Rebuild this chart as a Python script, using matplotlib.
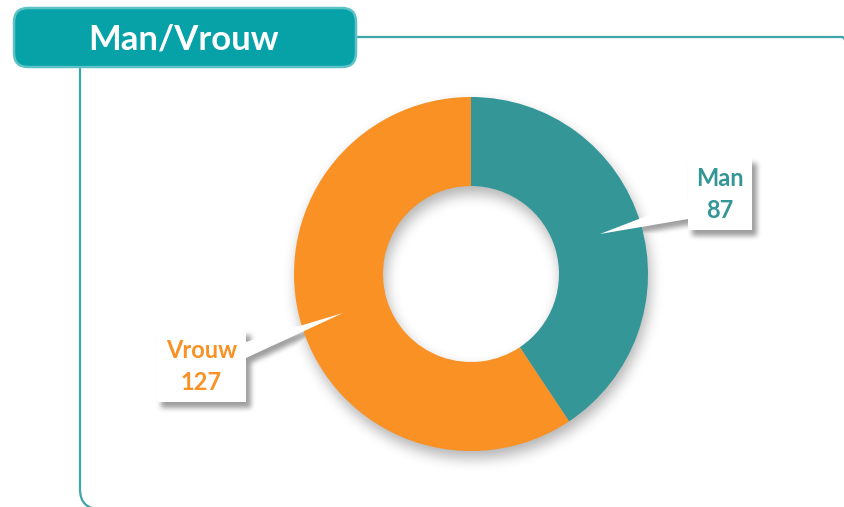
import numpy as np
import matplotlib
matplotlib.use('Agg')
import matplotlib.pyplot as plt
from matplotlib.patches import FancyBboxPatch, Polygon, Rectangle
from matplotlib.path import Path

# data
labels = ['Man', 'Vrouw']
values = [87, 127]
colors = ['#349696', '#F99124']
title = 'Man/Vrouw'

W, H = 845, 507
cx, cy = 471, 274          # donut centre (image pixels, y down)
r_out, r_in = 177, 88


def Y(v):
    return H - v


def box_blur(a, r, n=3):
    for _ in range(n):
        for ax_ in (0, 1):
            pad = [(0, 0), (0, 0)]
            pad[ax_] = (r + 1, r)
            p = np.pad(a, pad, mode='edge')
            c = np.cumsum(p, axis=ax_)
            if ax_ == 0:
                a = (c[2 * r + 1:] - c[:-2 * r - 1]) / (2 * r + 1)
            else:
                a = (c[:, 2 * r + 1:] - c[:, :-2 * r - 1]) / (2 * r + 1)
    return a


fig = plt.figure(figsize=(W / 100, H / 100), dpi=100)
ax = fig.add_axes([0, 0, 1, 1])
fig.patch.set_facecolor('white')

# soft shadows (donut + callouts)
yy, xx = np.mgrid[0:H, 0:W]
rr = np.hypot(xx - cx - 2, yy - cy - 7)
ring = ((rr <= r_out) & (rr >= r_in)).astype(float)
shadow = box_blur(ring, 6) * 0.30

# callout geometry: box (x0, y0, x1, y1), pointer tip, pointer base y range
callouts = [
    dict(box=(688, 158, 752, 230), tip=(600, 234), base=(200, 219), side='left'),
    dict(box=(157, 330, 246, 402), tip=(343, 313), base=(342, 358), side='right'),
]
cmask = np.zeros((H, W))
pts = np.column_stack([xx.ravel(), yy.ravel()])
for c in callouts:
    x0, y0, x1, y1 = c['box']
    cmask[(xx >= x0 + 4) & (xx <= x1 + 4) & (yy >= y0 + 5) & (yy <= y1 + 5)] = 1
    bx = x0 if c['side'] == 'left' else x1
    tri = Path([(c['tip'][0] + 3, c['tip'][1] + 5), (bx + 3, c['base'][0] + 5),
                (bx + 3, c['base'][1] + 5)])
    cmask[tri.contains_points(pts).reshape(H, W)] = 1
shadow = np.maximum(shadow, box_blur(cmask, 2) * 0.38)

img = np.zeros((H, W, 4))
img[..., 3] = shadow
ax.imshow(img, extent=(0, W, 0, H), origin='upper', zorder=1, interpolation='bilinear')

# donut
ax.pie(values, colors=colors, startangle=90, counterclock=False,
       radius=r_out, center=(cx, Y(cy)), frame=True,
       wedgeprops=dict(width=r_out - r_in, edgecolor='none', zorder=2))

# frame around the panel (bottom and right edges run just past the canvas)
frame = FancyBboxPatch((80, Y(509)), 782, 472, boxstyle='round,pad=0,rounding_size=20',
                       facecolor='none', edgecolor='#3FA5A8', linewidth=1.6, zorder=3)
ax.add_patch(frame)

# header
head = FancyBboxPatch((14, Y(67)), 342, 59, boxstyle='round,pad=0,rounding_size=14',
                      facecolor='#06A2A8', edgecolor='#5DC2C6', linewidth=1.8, zorder=4)
ax.add_patch(head)
ax.text(184, Y(39), title, ha='center', va='center', color='white',
        fontsize=25, fontweight='bold', family='Lato', zorder=5)

# callouts
for c, lab, val, col in zip(callouts, labels, values, colors):
    x0, y0, x1, y1 = c['box']
    bx = x0 if c['side'] == 'left' else x1
    ax.add_patch(Polygon([(c['tip'][0], Y(c['tip'][1])), (bx, Y(c['base'][0])),
                          (bx, Y(c['base'][1]))], closed=True,
                         facecolor='white', edgecolor='none', zorder=6))
    ax.add_patch(Rectangle((x0, Y(y1)), x1 - x0, y1 - y0,
                           facecolor='white', edgecolor='none', zorder=6))
    xm = (x0 + x1) / 2
    ym = (y0 + y1) / 2
    ax.text(xm, Y(ym - 16), lab, ha='center', va='center', color=col,
            fontsize=17, fontweight='bold', family='Lato', zorder=7)
    ax.text(xm, Y(ym + 16), str(val), ha='center', va='center', color=col,
            fontsize=17, fontweight='bold', family='Lato', zorder=7)

ax.set_xlim(0, W)
ax.set_ylim(0, H)
ax.axis('off')

fig.savefig('out.png', dpi=100, facecolor='white')
